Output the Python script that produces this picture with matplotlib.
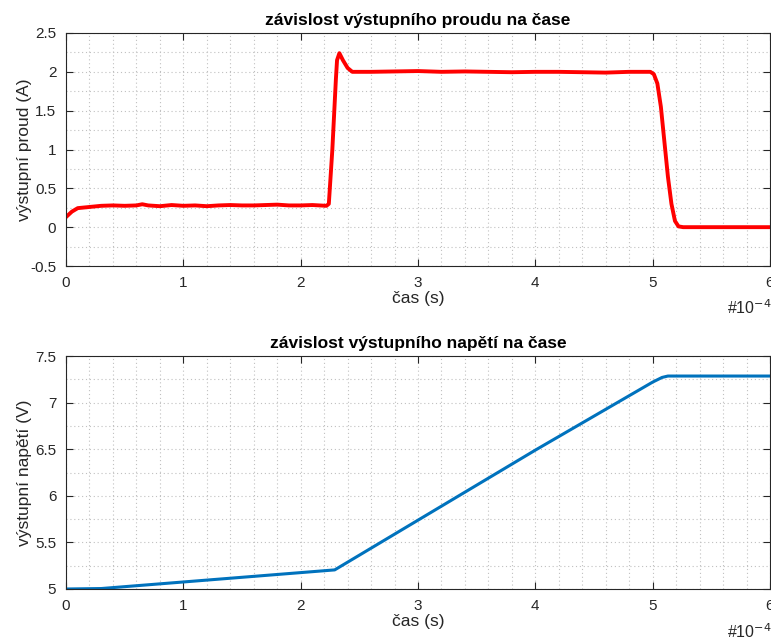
import matplotlib
matplotlib.use("Agg")
import matplotlib.pyplot as plt
from matplotlib.ticker import MultipleLocator, FuncFormatter

plt.rcParams['font.family'] = ['Liberation Sans', 'DejaVu Sans']
plt.rcParams['axes.unicode_minus'] = False

# time in units of 1e-4 s
t_current = [0.0, 0.05, 0.1, 0.2, 0.3, 0.4, 0.5, 0.6, 0.65, 0.7, 0.8, 0.9, 1.0,
             1.1, 1.2, 1.3, 1.4, 1.5, 1.6, 1.7, 1.8, 1.9, 2.0, 2.1, 2.22, 2.24,
             2.27, 2.30, 2.31, 2.33, 2.36, 2.40, 2.44, 2.6, 2.8, 3.0, 3.2, 3.4,
             3.6, 3.8, 4.0, 4.2, 4.4, 4.6, 4.8, 4.98, 5.01, 5.04, 5.07, 5.10,
             5.13, 5.16, 5.19, 5.22, 5.26, 5.5, 6.0]
current = [0.13, 0.2, 0.245, 0.26, 0.275, 0.28, 0.275, 0.28, 0.295, 0.28, 0.27,
           0.285, 0.275, 0.28, 0.27, 0.28, 0.285, 0.28, 0.28, 0.285, 0.29, 0.28,
           0.28, 0.285, 0.275, 0.3, 1.0, 1.9, 2.15, 2.24, 2.15, 2.05, 2.0, 2.0,
           2.005, 2.01, 2.0, 2.005, 2.0, 1.995, 2.0, 2.0, 1.995, 1.99, 2.0,
           2.0, 1.97, 1.85, 1.55, 1.1, 0.65, 0.3, 0.08, 0.01, 0.0, 0.0, 0.0]

t_voltage = [0.0, 0.3, 2.29, 4.0, 5.0, 5.08, 5.13, 6.0]
voltage = [5.0, 5.005, 5.205, 6.49, 7.22, 7.27, 7.285, 7.285]

fig = plt.figure(figsize=(7.71, 6.39), dpi=100)
ax1 = fig.add_axes([66 / 771, 1 - 266 / 639, 704 / 771, 233 / 639])
ax2 = fig.add_axes([66 / 771, 1 - 589 / 639, 704 / 771, 233 / 639])

ax1.plot(t_current, current, color='#ff0000', lw=2.8)
ax2.plot(t_voltage, voltage, color='#0072bd', lw=2.2)

fmt = FuncFormatter(lambda v, p: '%g' % round(v, 6))

setup = [
    (ax1, (-0.5, 2.5), 'výstupní proud (A)', 'závislost výstupního proudu na čase'),
    (ax2, (5, 7.5), 'výstupní napětí (V)', 'závislost výstupního napětí na čase'),
]
for ax, ylim, ylab, title in setup:
    ax.set_xlim(0, 6)
    ax.set_ylim(*ylim)
    ax.xaxis.set_major_locator(MultipleLocator(1))
    ax.xaxis.set_minor_locator(MultipleLocator(0.2))
    ax.yaxis.set_major_locator(MultipleLocator(0.5))
    ax.yaxis.set_minor_locator(MultipleLocator(0.25))
    ax.xaxis.set_major_formatter(fmt)
    ax.yaxis.set_major_formatter(fmt)
    ax.grid(True, which='both', color='#c0c0c0', ls=(0, (1, 2.5)), lw=0.8)
    ax.tick_params(which='major', direction='in', length=5, width=0.8, colors='#262626',
                   labelsize=11, top=True, right=True, pad=7)
    ax.tick_params(which='minor', length=0, top=True, right=True)
    for s in ax.spines.values():
        s.set_color('#262626')
        s.set_linewidth(0.8)
    ax.set_xlabel('čas (s)', fontsize=12.5, color='#262626', labelpad=1)
    ax.set_ylabel(ylab, fontsize=12.5, color='#262626')
    ax.yaxis.set_label_coords(-0.048, 0.5)
    ax.set_title(title, fontsize=12.5, fontweight='bold', pad=6)
    ax.set_axisbelow(True)

fig.text(727 / 771, 1 - 308 / 639, '#10$^{-4}$', fontsize=11.5, color='#262626', va='center')
fig.text(727 / 771, 1 - 632 / 639, '#10$^{-4}$', fontsize=11.5, color='#262626', va='center')

fig.savefig('out.png', dpi=100)
